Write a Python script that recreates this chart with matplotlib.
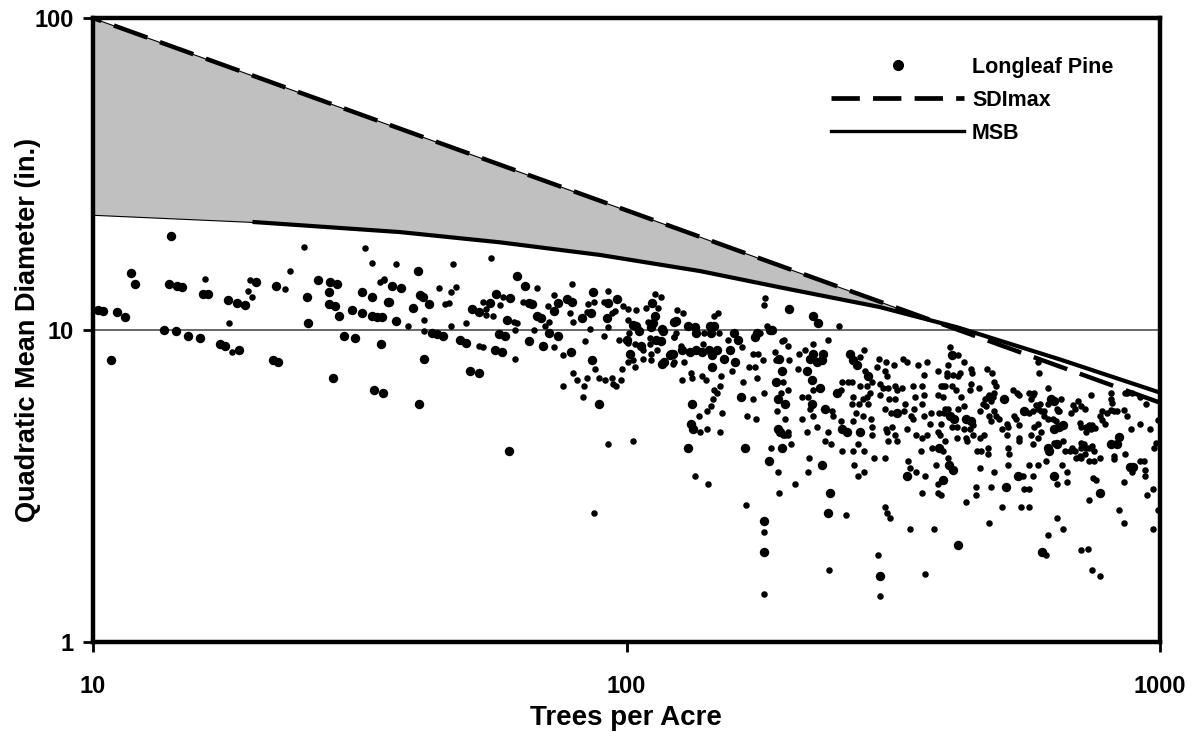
import numpy as np
import matplotlib
matplotlib.use("Agg")
import matplotlib.pyplot as plt
from matplotlib.lines import Line2D
from matplotlib.ticker import NullLocator, FixedLocator, FixedFormatter

plt.rcParams['font.family'] = ['Liberation Sans', 'DejaVu Sans']
plt.rcParams['font.weight'] = 'bold'

# ---------------- data (trees per acre, quadratic mean diameter) ----------------
x_ticks = [10, 100, 1000]
x_tick_labels = ['10', '100', '1000']
y_ticks = [1, 10, 100]
y_tick_labels = ['1', '10', '100']

sdimax_tpa = [10, 1000]
sdimax_qmd = [100, 5.85]

msb_tpa = [10, 19.9, 37.6, 57.9, 89.2, 137.3, 194, 298, 417, 649, 1000]
msb_qmd = [23.4, 22.2, 20.6, 19.1, 17.4, 15.45, 13.7, 11.85, 10.2, 8.05, 6.3]

longleaf_large = [
    (10.2, 11.6), (10.45, 11.5), (10.8, 8.0), (11.1, 11.4), (11.5, 11.0), (11.8, 15.2), (12.0, 14.0),
    (14.0, 20.0), (13.6, 10.0), (13.9, 14.0), (14.4, 13.8), (14.7, 13.7), (14.3, 9.9), (15.1, 9.6),
    (15.9, 9.4), (16.1, 13.0), (16.4, 13.0), (17.3, 9.0), (17.7, 8.9), (18.8, 8.6), (17.9, 12.5),
    (18.6, 12.2), (19.3, 12.0), (20.2, 14.3), (21.7, 8.0), (22.2, 7.9), (22.0, 13.8), (25.2, 12.8),
    (25.3, 10.5), (26.4, 14.5), (27.7, 13.2), (27.8, 14.3), (28.7, 14.0), (27.7, 12.1), (28.4, 11.9),
    (28.9, 11.1), (28.2, 7.0), (29.5, 9.6), (31.0, 9.4), (30.6, 11.6), (31.9, 11.3), (32.0, 13.2),
    (33.4, 12.8), (33.3, 11.1), (34.0, 11.0), (34.8, 11.0), (34.6, 9.0), (33.7, 6.4), (34.9, 6.3),
    (35.7, 12.3),
    (36.4, 13.8), (37.8, 13.6), (40.6, 15.4), (35.9, 12.3), (36.9, 10.7), (39.8, 11.8), (41.0, 12.9),
    (41.5, 12.8), (42.6, 12.1), (43.2, 9.8), (44.2, 9.7), (45.2, 9.6), (41.7, 8.1), (40.8, 5.8),
    (48.8, 9.3), (50.0, 9.1), (51.0, 7.4), (52.8, 7.3), (51.3, 11.7), (53.0, 11.4), (55.6, 12.2),
    (56.9, 13.0), (60.5, 12.7), (59.6, 10.8), (57.7, 9.7), (59.1, 9.6), (56.8, 8.6), (58.4, 8.5),
    (60.2, 4.1), (62.4, 14.9), (64.6, 13.8), (65.7, 12.2), (66.4, 12.1), (65.7, 9.2), (68.0, 11.1),
    (69.0, 10.9), (71.6, 9.8), (74.3, 9.6), (69.6, 8.9), (78.7, 8.5), (73.0, 11.5), (74.3, 12.2),
    (77.3, 12.6), (79.0, 12.3), (82.5, 10.9), (86.5, 13.2), (85.8, 11.3), (86.1, 8.0), (89.0, 5.8),
    (92.5, 12.2), (96.0, 12.6), (92.1, 10.9), (100.3, 9.3), (102.9, 10.4), (104.3, 10.3), (105.6, 9.9),
    (101.7, 8.4), (106.6, 8.9), (111.5, 12.2), (111, 10.2), (113, 11.1), (112, 10.5), (113.5, 9.3),
    (116, 9.2), (116.8, 10.1), (116.8, 7.8), (120.6, 8.3), (122, 8.4), (123, 10.6),
    (123.7, 10.7), (130.5, 10.3), (134.3, 10.2), (143.6, 10.3), (146, 10.3), (117.3, 9.9), (135, 9.8),
    (144.2, 9.8), (117.8, 7.9), (121.4, 8.4), (127.2, 8.6), (131.4, 8.5), (134.8, 8.6), (138.3, 8.5),
    (142.6, 8.6), (144.8, 8.3), (148, 8.6), (144.8, 7.6), (152.5, 8.1), (156, 8.6), (159, 9.8),
    (162, 9.3), (159.5, 7.9), (132.5, 5.8), (132, 5.0), (133.5, 4.8), (130.5, 4.2), (164, 6.1),
    (167, 4.2), (181.2, 2.45), (185, 3.8), (192, 4.8), (195.3, 4.2), (194, 4.7), (192.6, 6.0),
    (198, 5.8), (191, 6.8), (195.3, 7.4), (193, 8.1), (175.6, 9.8), (174.4, 9.5), (185.7, 10.0),
    (187.5, 10.0), (202, 11.7), (224, 11.1), (220.6, 8.1), (224, 8.4), (227.8, 7.9), (232.7, 8.0),
    (234, 8.4), (217.8, 7.4), (222.5, 6.9), (230.5, 6.5), (222.6, 5.8), (235.5, 5.6), (232.7, 3.7),
    (240.3, 3.0), (239, 2.6), (254, 4.8), (259, 4.7), (248, 6.3), (273.8, 4.7), (283.2, 7.1),
    (262, 8.4), (266, 8.0), (270.4, 7.7), (322, 5.4), (335.4, 3.4), (385, 4.2), (402, 3.7),
    (410, 3.55), (392, 3.3), (404, 5.3), (411.6, 5.2), (408, 8.3), (418.5, 2.05), (181, 1.95),
    (299, 1.63), (229, 10.5),
    (433, 5.2), (443, 5.1), (514, 3.15), (541, 3.4), (556, 5.5), (625, 6.0), (632, 5.9), (632, 4.8),
    (648, 4.9), (657, 4.95), (642, 4.3), (620, 4.1), (617, 4.2), (632, 3.4), (600, 1.95), (771, 3.0),
    (810, 4.3), (837, 4.55), (830, 4.3), (878, 3.65), (890, 3.65), (510, 6.0),
]

longleaf_small = [
    (16.2, 14.6), (18.0, 10.5), (18.2, 8.5), (19.5, 13.3), (19.7, 14.5), (19.9, 12.8), (22.9, 13.5),
    (23.4, 15.4), (24.9, 18.5), (32.3, 18.3), (33.3, 16.4), (34.5, 14.2), (35.1, 14.5), (37.0, 16.3),
    (47.3, 16.3), (55.7, 17.0),
    (35.1, 14.6), (39.0, 10.3), (41.7, 10.8), (41.7, 9.9), (44.6, 13.6), (45.7, 12.1), (46.4, 12.2),
    (46.9, 13.2), (47.9, 13.7), (46.9, 10.3), (50.0, 10.5), (54.6, 11.7), (53.8, 12.3), (54.6, 11.2),
    (56.2, 11.1), (58.0, 12.0), (58.6, 12.8), (61.5, 10.6), (62.4, 10.5), (61.7, 10.0), (53.0, 8.9),
    (53.9, 8.8), (61.7, 8.1), (68.0, 13.6), (64.0, 12.3), (67.0, 10.0), (70.2, 10.3), (71.6, 10.6),
    (73.0, 8.8), (75.9, 8.3), (71.3, 11.9), (73.0, 12.9), (79.0, 14.0), (78.4, 11.3), (79.3, 10.6),
    (83.6, 9.2), (84.6, 12.1), (84.2, 11.4), (87, 12.3), (85.4, 10.1), (87.3, 7.5), (79.3, 7.3),
    (80.8, 6.9), (75.9, 6.6), (84.2, 7.0), (83.3, 6.6), (82.8, 6.1), (89.0, 7.0), (92.5, 4.3),
    (102.9, 4.4), (87.0, 2.6), (90.6, 9.6), (91.0, 6.9), (93.8, 7.0), (94.3, 6.7), (95.5, 6.6),
    (97.7, 6.9), (98.1, 7.5), (92.5, 13.3), (90.6, 12.3), (93.8, 11.3), (95.0, 11.5), (92.5, 10.2),
    (96.9, 9.3), (98.6, 11.9), (100.7, 11.7), (104.3, 11.6), (100.7, 10.8), (101, 9.8), (100.7, 9.1),
    (103.8, 9.0), (100.7, 7.9), (102.9, 8.0), (103.8, 7.6), (107.4, 8.6), (107.4, 8.1), (108.8, 11.8),
    (113.0, 13.0), (116.0, 12.8), (109.6, 10.6), (114.5, 11.8), (110.6, 9.4), (110.6, 9.0), (114, 8.6),
    (111, 8.4), (111, 8.0), (122, 7.8), (122.6, 9.5), (124.2, 11.6),
    (127.6, 11.3), (148.6, 11.3), (146, 11.1), (123.7, 9.8), (139.5, 9.8), (149.3, 9.8), (116.5, 9.2),
    (122.6, 9.5), (126.5, 8.9), (122.5, 7.9), (128.3, 7.9), (139, 9.0), (155, 9.3), (164.5, 8.8),
    (157.5, 7.4), (127.2, 6.9), (132, 7.3), (132.5, 7.0), (138.3, 7.1), (140.7, 6.9), (146, 6.4),
    (150, 6.6), (150.5, 7.1), (148, 6.3), (145.4, 6.0), (144.2, 5.7), (137, 5.3), (141.4, 5.5),
    (151, 5.4), (137.4, 4.7), (141.4, 4.8), (150, 4.7), (134.3, 3.4), (142, 3.2), (165, 6.8),
    (168, 5.3), (172.5, 6.0), (174.8, 5.2), (167.5, 2.75), (181.2, 2.25), (186.4, 4.2), (192, 3.5),
    (192.8, 3.0), (196.6, 4.6), (198, 4.6), (200.4, 4.6), (203, 4.3), (191.8, 5.5), (198.5, 5.2),
    (201, 4.7), (194.7, 6.3), (196.6, 6.8), (201, 6.4), (190.5, 8.0), (189.8, 8.5), (195.3, 9.2),
    (197, 9.3), (200.4, 8.9), (202, 8.0), (181, 12.0), (183.5, 10.3), (177.7, 9.8), (176.4, 8.4),
    (173, 8.4), (180.5, 8.0), (173.8, 7.6), (169.5, 7.6), (175.6, 7.0), (181, 6.3), (250, 10.3),
    (210.5, 8.4), (215.7, 8.6), (239, 9.3), (224, 9.0), (209.5, 7.5), (224, 6.4), (213.6, 6.1),
    (218.7, 6.1), (221, 5.6), (242.5, 5.5), (243.5, 5.3), (227.8, 4.9), (224, 5.3), (217.8, 4.7),
    (235.5, 4.4), (241.3, 4.3), (239, 4.7), (213.6, 5.2), (220, 3.9), (218.7, 3.5), (207, 3.2),
    (258, 2.55), (254, 4.1), (252.4, 5.1), (254, 6.8), (252.4, 6.4), (260, 6.8), (264.6, 6.8),
    (266, 6.1), (264.6, 5.8), (266, 5.1), (271.6, 4.3), (266, 4.1), (267.4, 3.7), (271.6, 3.4),
    (278.6, 3.5), (278.6, 4.1), (277.4, 5.3), (268.8, 5.4), (272.7, 5.8), (277.4, 6.0), (282, 6.1),
    (283.2, 5.8), (285.6, 6.3), (273.8, 6.6), (282, 6.6), (289, 6.8), (273.8, 8.2), (278.6, 8.6),
    (279.8, 7.4), (286.8, 5.2), (289, 4.9), (289, 4.6), (291.6, 3.9), (295, 7.6), (297.6, 8.1),
    (298.6, 6.7), (298.6, 6.2), (302, 6.5), (305.6, 7.4), (308, 7.1), (306.8, 7.9), (309, 6.5),
    (310.5, 6.0), (305.6, 5.6), (306.8, 4.8), (308, 4.7), (315, 4.9), (318, 6.6), (322, 6.4),
    (328, 6.5), (316.6, 7.7), (318, 6.0), (313, 5.4), (319, 4.6), (322, 4.4), (309.6, 4.4),
    (305.6, 3.9), (305.6, 2.7), (308, 2.6), (312, 2.5), (330, 8.1), (335.4, 7.9), (330.6, 5.5),
    (333, 5.8), (335.4, 4.8), (337.4, 3.8), (340, 3.6), (340, 2.3), (342, 5.3), (345, 5.2),
    (346, 5.6), (347.5, 6.1), (345, 6.6), (352, 7.7), (366, 7.9), (361.6, 7.2), (358.4, 6.6),
    (361.6, 6.2), (358.4, 5.8), (361.6, 5.3), (348.5, 4.6), (358.4, 4.5), (366, 4.6), (348.5, 3.5),
    (363, 3.4), (358.4, 3.0), (357, 4.1), (374.5, 4.2), (380, 3.7), (383.5, 3.2), (383.5, 3.0),
    (389, 2.95), (376.8, 2.3), (371.5, 5.4), (370, 5.0), (383.5, 4.7), (388, 5.0), (387, 4.6),
    (392, 4.1), (395.4, 4.4), (401, 3.9), (385, 5.4), (393, 5.4), (395.4, 5.6), (401, 5.6),
    (408, 4.9), (416.6, 4.5), (416.6, 4.9), (418.5, 5.6), (383.5, 6.2), (392, 6.1), (392, 6.6),
    (388, 6.6), (395, 6.6), (399, 7.1), (408, 6.6), (414, 6.4), (418, 7.1), (410, 7.2), (401, 7.7),
    (399, 7.3), (384, 7.4), (418.5, 8.3), (404, 8.8), (181, 1.43), (240, 1.7), (296, 1.9), (299, 1.4),
    (363, 1.65), (181.8, 12.7),
    (429, 7.9), (421.5, 7.3), (443, 7.5), (445, 7.3), (474.5, 7.5), (484, 7.3), (443, 6.7),
    (457.6, 6.5), (440, 6.4), (424, 6.1), (429.4, 5.7), (446.5, 4.95), (440, 4.8), (435.4, 4.4),
    (433, 4.5), (446.5, 4.6), (429.4, 4.8), (459.5, 4.5), (467, 4.6), (459.5, 5.5), (465, 5.8),
    (470.5, 6.0), (476, 6.1), (486, 6.1), (488, 6.3), (492, 6.6), (488, 6.8), (478, 6.2), (482, 5.9),
    (472.5, 5.7), (478, 5.3), (482, 5.1), (492, 5.3), (488, 5.5), (453.5, 4.1), (462.5, 4.1),
    (459, 3.6), (476, 4.2), (476, 4.0), (488, 3.5), (482, 3.15), (451, 3.15), (451, 2.95), (433, 2.8),
    (478, 2.4), (505, 2.7), (500, 5.2), (505, 4.8), (519, 4.9), (516, 4.6), (519, 4.2), (521, 4.0),
    (519, 3.7), (516, 5.0), (532, 5.3), (536, 5.2), (543, 4.95), (543, 4.5), (545, 4.4), (553, 3.4),
    (550, 2.7), (567, 2.7), (556, 3.1), (567, 3.1), (567, 3.7), (577, 3.4), (590, 3.7), (577, 4.3),
    (572, 4.6), (580, 4.9), (590, 4.5), (598, 4.7), (590, 5.0), (567, 5.4), (577, 5.5), (585, 5.75),
    (590, 5.6), (598, 5.5), (606, 5.3), (617, 5.2), (606, 5.5), (572, 6.0), (577, 6.2), (567, 6.3),
    (580, 6.3), (595, 5.8), (617, 5.8), (622, 6.0), (617, 6.5), (642, 5.6), (645, 5.5), (630, 5.2),
    (637, 5.1), (657, 4.4), (632, 4.35), (611, 3.8), (642, 3.2), (654, 3.7), (668, 3.5), (663, 4.1),
    (678, 4.1), (685, 4.2), (694, 4.1), (709, 3.95), (697, 3.9), (712, 4.2), (721, 4.3), (712, 4.35),
    (712, 3.9), (724, 4.0), (727, 4.2), (737, 4.2), (746, 4.25), (752, 4.1), (771, 3.9), (752, 3.8),
    (737, 3.8), (668, 3.25), (658, 2.3), (642, 2.5), (617, 2.2), (612, 1.9), (712, 1.97), (732, 1.98),
    (745, 1.7), (771, 1.63), (737, 2.85), (760, 3.3), (750, 3.35), (682, 5.4), (688, 5.75), (694, 5.6),
    (702, 5.9), (712, 5.7), (724, 5.6), (727, 4.9), (737, 4.95), (741, 4.8), (746, 4.95), (755, 4.85),
    (709, 5.05), (712, 4.9), (727, 4.7), (741, 6.2), (771, 5.3), (780, 5.15), (787, 5.0), (780, 5.5),
    (797, 5.4), (810, 5.55), (812, 5.85), (810, 6.3), (819, 5.5), (830, 5.5), (819, 3.95), (819, 3.85),
    (858, 4.0), (855, 3.25), (837, 2.65), (855, 2.4), (855, 5.55), (868, 5.3), (882, 4.8), (886, 3.5),
    (919, 3.8), (935, 3.8), (938, 3.55), (938, 3.4), (945, 2.95), (970, 3.1), (970, 2.3), (919, 5.0),
    (958, 4.8), (940, 5.8), (974, 4.2), (983, 4.35), (993, 5.15), (993, 2.65), (858, 6.3), (887, 6.3),
    (530, 6.4), (540, 6.3), (543, 6.2), (590, 7.9), (592, 7.3), (653, 6.0), (648, 5.5), (808, 6.0),
    (868, 6.3), (919, 6.1),
]

series_labels = ['Longleaf Pine', 'SDImax', 'MSB']
x_label = 'Trees per Acre'
y_label = 'Quadratic Mean Diameter (in.)'

# ---------------- figure ----------------
W, H = 1199, 736
fig = plt.figure(figsize=(W / 100, H / 100), dpi=100)
ax = fig.add_axes([93 / W, 1 - 642 / H, (1160 - 93) / W, (642 - 18) / H])
ax.set_xscale('log')
ax.set_yscale('log')
ax.set_xlim(10, 1000)
ax.set_ylim(1, 100)

# shaded zone between SDImax and MSB
lx = np.linspace(1, 3, 800)
sdi_c = 10 ** np.interp(lx, np.log10(sdimax_tpa), np.log10(sdimax_qmd))
msb_c = 10 ** np.interp(lx, np.log10(msb_tpa), np.log10(msb_qmd))
ax.fill_between(10 ** lx, msb_c, sdi_c, where=sdi_c >= msb_c, interpolate=True,
                facecolor='#c0c0c0', edgecolor='black', linewidth=0.8, zorder=1)

# horizontal gridline at 10
ax.yaxis.grid(True, which='major', color='#404040', linewidth=1.1, zorder=0.5)
ax.set_axisbelow(True)

# lines
ax.plot(sdimax_tpa, sdimax_qmd, color='black', linewidth=3.2,
        linestyle=(6, (8.0, 3.0)), zorder=2, solid_capstyle='butt', dash_capstyle='butt')
msb_t = np.array(msb_tpa)
msb_q = np.array(msb_qmd)
keep = msb_t >= 19.9
ax.plot(msb_t[keep], msb_q[keep], color='black', linewidth=3.0, zorder=2,
        solid_capstyle='butt')

# points
lg = np.array(longleaf_large)
sm = np.array(longleaf_small)
ax.scatter(lg[:, 0], lg[:, 1], s=46, color='black', linewidths=0, zorder=3)
ax.scatter(sm[:, 0], sm[:, 1], s=22, color='black', linewidths=0, zorder=3)

# axes styling
for sp in ax.spines.values():
    sp.set_linewidth(3.2)
    sp.set_color('black')
ax.xaxis.set_major_locator(FixedLocator(x_ticks))
ax.xaxis.set_major_formatter(FixedFormatter(x_tick_labels))
ax.yaxis.set_major_locator(FixedLocator(y_ticks))
ax.yaxis.set_major_formatter(FixedFormatter(y_tick_labels))
ax.xaxis.set_minor_locator(NullLocator())
ax.yaxis.set_minor_locator(NullLocator())
ax.tick_params(axis='both', which='major', direction='out', length=7, width=2,
               labelsize=17, color='black')
ax.tick_params(axis='x', pad=17)
ax.tick_params(axis='y', pad=7)
for lab in ax.get_xticklabels() + ax.get_yticklabels():
    lab.set_fontweight('bold')

# axis titles placed explicitly
fig.text(626 / W, 1 - 718 / H, x_label, fontsize=20, fontweight='bold',
         ha='center', va='center')
fig.text(28 / W, 1 - 330 / H, y_label, fontsize=19.5, fontweight='bold',
         ha='center', va='center', rotation=90)

# legend
handles = [
    Line2D([], [], marker='o', linestyle='none', color='black', markersize=7),
    Line2D([], [], color='black', linewidth=3.4, linestyle=(0, (6.0, 2.8))),
    Line2D([], [], color='black', linewidth=2.4),
]
leg = ax.legend(handles, series_labels, loc='upper left',
                bbox_to_anchor=(831 / W, 1 - 57 / H), bbox_transform=fig.transFigure,
                frameon=False, prop={'size': 15.5, 'weight': 'bold'},
                handlelength=6.2, handletextpad=0.35, labelspacing=0.55,
                borderpad=0, borderaxespad=0)

fig.savefig('out.png', dpi=100)
